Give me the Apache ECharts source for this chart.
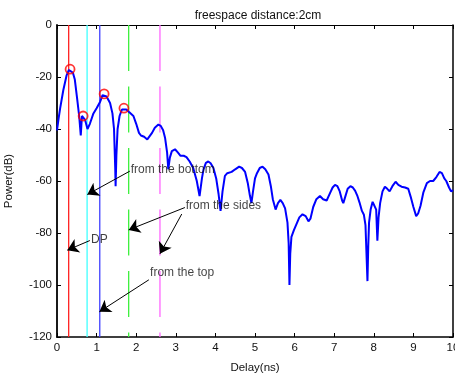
<!DOCTYPE html>
<html><head><meta charset="utf-8">
<script src="https://cdn.jsdelivr.net/npm/echarts@6/dist/echarts.min.js"></script>
<style>html,body{margin:0;padding:0;background:#fff}#c{width:455px;height:374px}</style>
</head><body><div id="c"></div>
<script>
// Delay (ns) and power (dB) of the measured response
const delay = [0.00,0.04,0.08,0.16,0.24,0.30,0.34,0.40,0.45,0.51,0.56,0.60,0.63,0.66,0.71,0.77,0.83,0.92,1.00,1.09,1.15,1.19,1.25,1.34,1.40,1.44,1.47,1.48,1.50,1.53,1.58,1.64,1.69,1.75,1.82,1.93,2.00,2.07,2.12,2.20,2.28,2.33,2.40,2.47,2.56,2.62,2.68,2.73,2.78,2.81,2.85,2.90,2.98,3.05,3.12,3.20,3.27,3.35,3.44,3.53,3.60,3.66,3.70,3.76,3.82,3.88,3.95,4.02,4.08,4.13,4.18,4.24,4.30,4.41,4.50,4.60,4.67,4.75,4.82,4.87,4.91,4.95,5.00,5.05,5.12,5.19,5.26,5.34,5.40,5.45,5.52,5.58,5.64,5.70,5.76,5.82,5.85,5.87,5.89,5.92,5.98,6.05,6.12,6.20,6.28,6.35,6.40,6.47,6.55,6.64,6.72,6.81,6.90,6.96,7.02,7.08,7.14,7.20,7.23,7.28,7.34,7.41,7.47,7.53,7.58,7.64,7.70,7.75,7.79,7.82,7.84,7.86,7.88,7.92,7.97,8.02,8.06,8.09,8.12,8.16,8.22,8.28,8.34,8.40,8.47,8.55,8.62,8.70,8.79,8.87,8.93,9.00,9.07,9.12,9.18,9.25,9.34,9.42,9.50,9.58,9.66,9.72,9.78,9.83,9.90,9.95,10.00];
const power = [-40.5,-36,-32,-25,-19.5,-17.3,-17.0,-18.3,-21,-28.5,-35,-42.5,-35,-34.8,-36.5,-40,-38,-34,-32,-29.5,-27,-26.6,-27.5,-30,-34,-40,-55,-62,-50,-40,-35,-32.5,-31.8,-32.5,-33.5,-35,-38,-41.5,-42.5,-43,-44,-43.5,-41.5,-39.5,-38.3,-38.8,-40.5,-43.5,-49,-55.5,-51,-48.5,-47.8,-49,-50.3,-50.3,-50.8,-52.5,-55,-60,-65.8,-59,-55.5,-53,-52.5,-53.2,-55,-59,-65,-71.5,-64,-58,-57,-56.5,-55.5,-54.5,-55,-56.5,-61,-65.5,-68.5,-64,-59,-57,-55,-54.5,-55.5,-57.5,-62,-67,-71,-68.5,-67.3,-68.5,-70.5,-76,-84,-100,-88,-81.5,-79,-76.5,-74,-72.8,-73.5,-75.5,-74.5,-70,-67,-65.8,-67,-67.5,-64.5,-62.5,-61.5,-62,-64,-67.5,-68.5,-66,-63,-62,-62.5,-63.8,-65.5,-68.3,-71.5,-73,-77,-90,-98.5,-85,-76,-71,-68,-68.5,-71,-83,-74,-68.5,-64,-62.2,-63,-64,-62,-60.3,-61.5,-62.2,-62.5,-63,-66,-70,-73.5,-72.5,-69.5,-64.5,-60.8,-60,-60,-58.5,-56.5,-57,-59,-60,-62.5,-64,-63.5];
// Marked peaks
const peakDelay = [0.33,0.66,1.19,1.69];
const peakPower = [-17,-35,-26.5,-32];
// Vertical path markers
const markerDelay = [0.295,0.76,1.08,1.81,2.60];
const markerColor = ['#ff2020','#40ffff','#4040ff','#40f040','#ff66ff'];
const markerDashed = [false,false,false,true,true];
// Annotations
const noteText = ['from the bottom','from the sides','DP','from the top'];
const noteAt = [[1.86,-55.8],[3.25,-69.5],[0.86,-82.7],[2.35,-95.4]];
const arrowFrom = [[1.84,-56.2],[3.23,-70.2],[3.15,-72.7],[0.83,-82.9],[2.32,-98.0]];
const arrowTo   = [[0.765,-65.2],[1.81,-78.8],[2.60,-88.0],[0.26,-86.6],[1.07,-110.3]];
const xTicks = {min:0,max:10,interval:1};
const yTicks = {min:-120,max:0,interval:20};

const FONT = 'Liberation Sans';
const chart = echarts.init(document.getElementById('c'), null, {renderer:'canvas'});
function axisStyle(w){
  return {
    axisLine:{show:true,onZero:false,lineStyle:{color:'#000',width:w}},
    axisTick:{show:true,inside:true,length:4,lineStyle:{color:'#000'}},
    splitLine:{show:false}
  };
}
const series = [];
markerDelay.forEach((x,i)=>{
  series.push({type:'line',xAxisIndex:0,yAxisIndex:0,data:[[x,0],[x,-120]],showSymbol:false,silent:true,
    lineStyle:{color:markerColor[i],width:1.3,type:markerDashed[i]?[46,15.5]:'solid'},z:2});
});
series.push({type:'line',data:delay.map((d,i)=>[d,power[i]]),showSymbol:false,smooth:false,
  lineStyle:{color:'#0000ff',width:2},z:3});
series.push({type:'scatter',data:peakDelay.map((d,i)=>[d,peakPower[i]]),symbol:'circle',symbolSize:9,
  itemStyle:{color:'rgba(0,0,0,0)',borderColor:'#ff0000',borderWidth:1.8},z:4});
series.push({type:'lines',coordinateSystem:'cartesian2d',polyline:false,
  data:arrowFrom.map((f,i)=>({coords:[f,arrowTo[i]]})),
  symbol:['none','arrow'],symbolSize:11,
  lineStyle:{color:'#000',width:1,opacity:1},z:5});
series.push({type:'scatter',data:noteAt.map((p,i)=>({value:p,name:noteText[i]})),symbolSize:0,
  label:{show:true,position:'right',distance:0,formatter:'{b}',color:'#111',fontFamily:FONT,fontSize:12},z:6});

chart.setOption({
  animation:false,
  backgroundColor:'#fff',
  title:{text:'freespace distance:2cm',left:253,top:5,textAlign:'center',
    textStyle:{fontFamily:FONT,fontSize:12,fontWeight:'normal',color:'#111'}},
  grid:{left:57,right:2,top:25,bottom:37,containLabel:false,outerBoundsMode:'none'},
  xAxis:[
    Object.assign({type:'value',position:'bottom',min:xTicks.min,max:xTicks.max,interval:xTicks.interval,
      name:'Delay(ns)',nameLocation:'middle',nameGap:25,
      nameTextStyle:{fontFamily:FONT,fontSize:11.5,color:'#111'},
      axisLabel:{fontFamily:FONT,fontSize:11.5,color:'#111',margin:5}},axisStyle(1.6)),
    Object.assign({type:'value',position:'top',min:xTicks.min,max:xTicks.max,interval:xTicks.interval,
      axisLabel:{show:false}},axisStyle(1))
  ],
  yAxis:[
    Object.assign({type:'value',position:'left',min:yTicks.min,max:yTicks.max,interval:yTicks.interval,
      name:'Power(dB)',nameLocation:'middle',nameGap:42,nameRotate:90,
      nameTextStyle:{fontFamily:FONT,fontSize:11.5,color:'#111'},
      axisLabel:{fontFamily:FONT,fontSize:11.5,color:'#111',margin:5}},axisStyle(1.8)),
    Object.assign({type:'value',position:'right',min:yTicks.min,max:yTicks.max,interval:yTicks.interval,
      axisLabel:{show:false}},axisStyle(1.5))
  ],
  series:series
});
</script></body></html>
